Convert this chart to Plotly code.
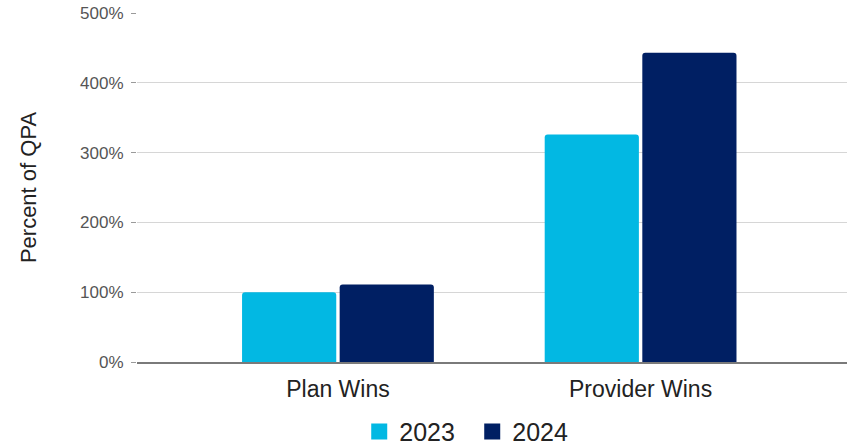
import plotly.graph_objects as go

categories = ["Plan Wins", "Provider Wins"]
series_names = ["2023", "2024"]
values_2023 = [100, 326]
values_2024 = [111, 443]
y_ticks = [0, 100, 200, 300, 400, 500]
y_tick_labels = ["0%", "100%", "200%", "300%", "400%", "500%"]
colors = ["#02B8E3", "#001F63"]

fig = go.Figure()
for name, vals, col in zip(series_names, [values_2023, values_2024], colors):
    fig.add_trace(go.Bar(
        x=categories, y=vals, name=name, showlegend=False,
        marker=dict(color=col, line=dict(width=0), cornerradius=3),
    ))
# legend-only entries with larger square symbols
for name, col in zip(series_names, colors):
    fig.add_trace(go.Scatter(
        x=[None], y=[None], mode="markers", name=name,
        marker=dict(symbol="square", size=16, color=col, line=dict(width=0)),
    ))

fig.update_layout(
    width=854, height=445,
    margin=dict(l=137, r=7, t=13, b=83, autoexpand=False),
    plot_bgcolor="white", paper_bgcolor="white",
    font=dict(family="Liberation Sans, Arial, sans-serif", color="#222222"),
    barmode="group", bargap=0.355, bargroupgap=0.035,
    showlegend=True,
    legend=dict(orientation="h", x=0.313, xanchor="left", y=-0.2, yanchor="middle",
                entrywidth=68, entrywidthmode="pixels",
                font=dict(size=25, color="#222222"), traceorder="normal"),
    xaxis=dict(
        type="category", range=[-0.664, 1.682],
        showline=True, linecolor="#7a7a7a", linewidth=1.5,
        showgrid=False, ticks="", tickfont=dict(size=23, color="#222222"),
        ticklabelstandoff=6,
    ),
    yaxis=dict(
        range=[0, 500], tickvals=y_ticks, ticktext=y_tick_labels,
        showgrid=True, gridcolor="#d6d6d6", gridwidth=1,
        zeroline=False, showline=False,
        ticks="outside", ticklen=5, tickcolor="#9a9a9a",
        tickfont=dict(size=17, color="#555555"), ticklabelstandoff=4,
        title=dict(text="Percent of QPA", font=dict(size=22, color="#222222"), standoff=37),
    ),
)

fig.write_html("out.html", config={"displayModeBar": False},
               post_script="document.body.style.margin='0';")
